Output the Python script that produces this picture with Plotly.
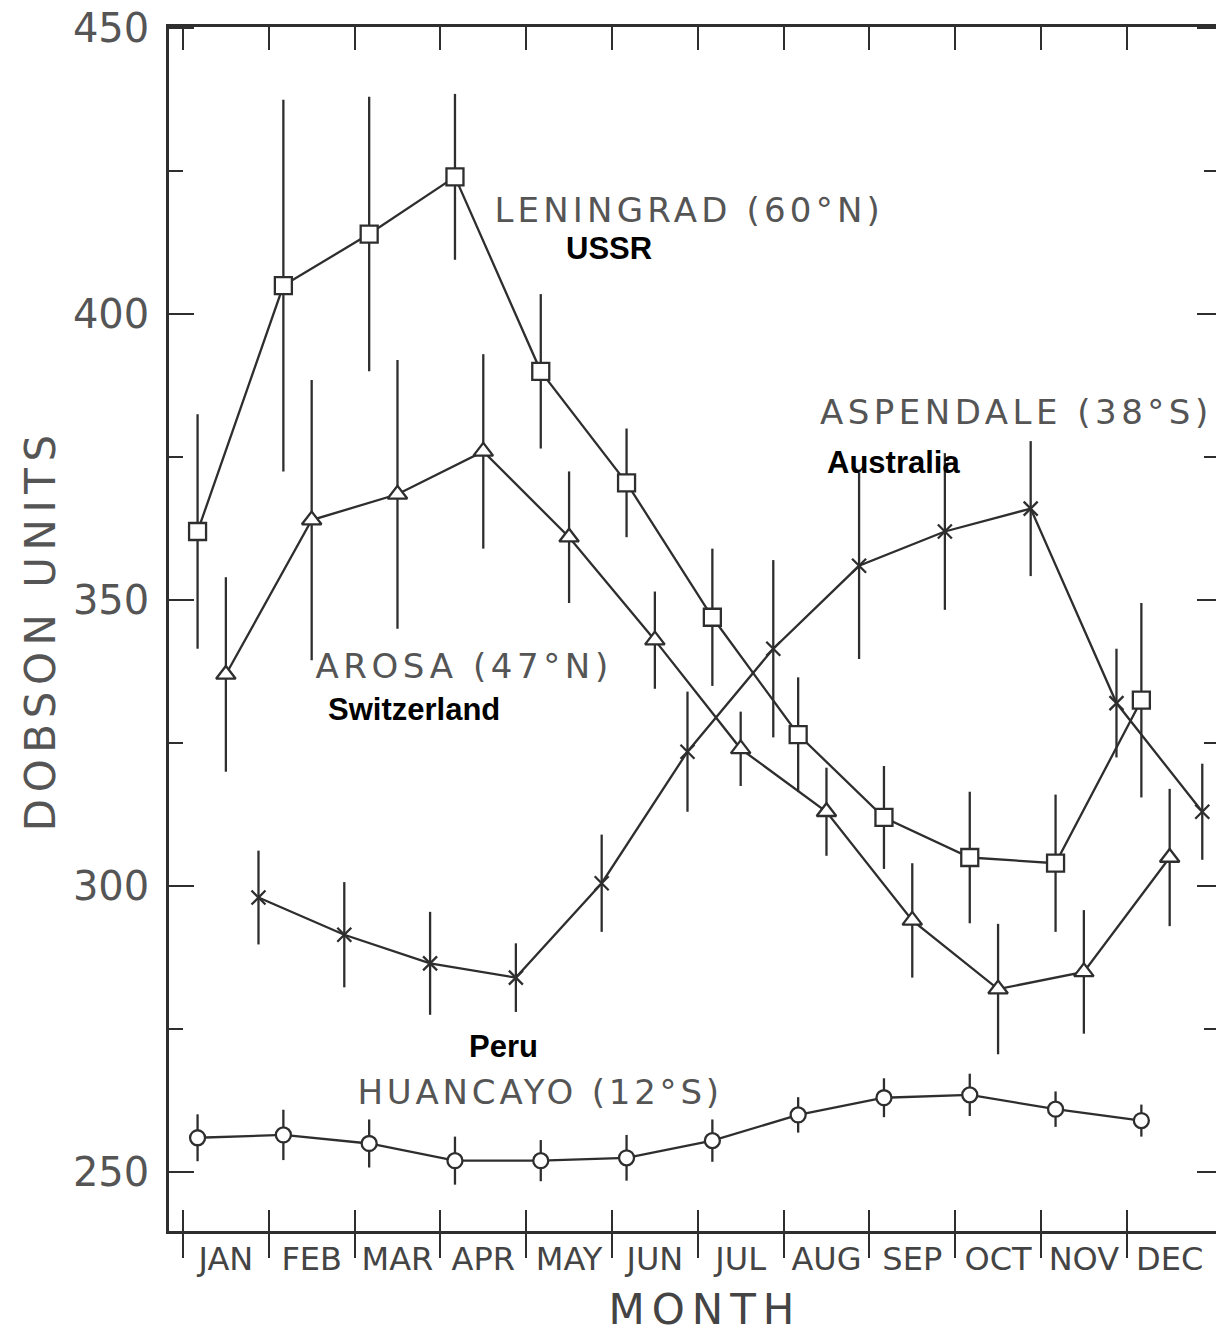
import plotly.graph_objects as go

# ---------------- data ----------------
months = ["JAN", "FEB", "MAR", "APR", "MAY", "JUN",
          "JUL", "AUG", "SEP", "OCT", "NOV", "DEC"]
month_index = list(range(12))

leningrad = [362, 405, 414, 424, 390, 370.5, 347, 326.5, 312, 305, 304, 332.5]
leningrad_err = [20.5, 32.5, 24, 14.5, 13.5, 9.5, 12, 10, 9, 11.5, 12, 17]

arosa = [337, 364, 368.5, 376, 361, 343, 324, 313, 294, 282, 285, 305]
arosa_err = [17, 24.5, 23.5, 17, 11.5, 8.5, 6.5, 7.7, 10, 11.4, 10.8, 12]

aspendale = [298, 291.5, 286.5, 284, 300.5, 323.5, 341.5, 356, 362, 366, 332, 313]
aspendale_err = [8.2, 9.2, 9, 6, 8.5, 10.5, 15.5, 16.3, 13.7, 11.8, 9.5, 8.4]

huancayo = [256, 256.5, 255, 252, 252, 252.5, 255.5, 260, 263, 263.5, 261, 259]
huancayo_err = [4.1, 4.4, 4.2, 4.2, 3.6, 4, 3.7, 3.1, 3.4, 3.7, 3.1, 2.8]

y_ticks = [250, 300, 350, 400, 450]
y_minor = [275, 325, 375, 425]

# ---------------- style ----------------
INK = "#2e2e2e"
TXT = "#555555"
X_RANGE = [-0.163, 12.04]
Y_RANGE = [239.7, 450.2]

series = [
    # name, values, errors, symbol, size, offset within month
    ("Leningrad", leningrad, leningrad_err, "square", 17, 0.17),
    ("Arosa", arosa, arosa_err, "triangle-up", 17, 0.50),
    ("Aspendale", aspendale, aspendale_err, "x-thin", 14, 0.88),
    ("Huancayo", huancayo, huancayo_err, "circle", 15, 0.17),
]

fig = go.Figure()
for name, vals, errs, sym, size, off in series:
    fig.add_trace(go.Scatter(
        x=[m + off for m in month_index], y=vals, name=name,
        mode="lines+markers",
        line=dict(color=INK, width=2.3),
        marker=dict(symbol=sym, size=size, color="white",
                    line=dict(color=INK, width=2.3)),
        error_y=dict(type="data", array=errs, visible=True,
                     width=0, thickness=2.3, color=INK),
        showlegend=False, hoverinfo="skip",
    ))

# dummy traces so that helper axes are drawn
for xa, ya in [("x2", "y"), ("x3", "y"), ("x4", "y"), ("x", "y2")]:
    fig.add_trace(go.Scatter(x=[None], y=[None], xaxis=xa, yaxis=ya,
                             showlegend=False, hoverinfo="skip"))

boundaries = list(range(12))
centers = [m + 0.5 for m in month_index]

common_x = dict(range=X_RANGE, showgrid=False, zeroline=False, automargin=False)
fig.update_layout(
    width=1216, height=1334, autosize=False,
    margin=dict(l=169, r=0, t=27, b=103),
    paper_bgcolor="white", plot_bgcolor="white",
    showlegend=False,
    xaxis=dict(**common_x, showline=True, linecolor=INK, linewidth=2.5,
               ticks="outside", ticklen=24, tickwidth=2.2, tickcolor=INK,
               tickvals=boundaries, showticklabels=False),
    xaxis2=dict(**common_x, overlaying="x", anchor="y", side="bottom",
                showline=False, ticks="inside", ticklen=21, tickwidth=2.2,
                tickcolor=INK, tickvals=boundaries, showticklabels=False),
    xaxis3=dict(**common_x, overlaying="x", anchor="y", side="top",
                showline=True, linecolor=INK, linewidth=2.5,
                ticks="inside", ticklen=23, tickwidth=2.2, tickcolor=INK,
                tickvals=boundaries, showticklabels=False),
    xaxis4=dict(**common_x, overlaying="x", anchor="y", side="bottom",
                showline=False, ticks="", tickvals=centers, ticktext=months,
                tickfont=dict(family="DejaVu Sans", size=32, color="#444444"),
                ticklabelstandoff=6),
    yaxis=dict(range=Y_RANGE, showgrid=False, zeroline=False, automargin=False,
               showline=True, linecolor=INK, linewidth=2.5,
               ticks="inside", ticklen=25, tickwidth=2.2, tickcolor=INK,
               tickvals=y_ticks,
               minor=dict(ticks="inside", ticklen=14, tickwidth=2,
                          tickcolor=INK, tickvals=y_minor, showgrid=False),
               tickfont=dict(family="DejaVu Sans", size=40, color=TXT),
               ticklabelstandoff=9),
    yaxis2=dict(range=Y_RANGE, overlaying="y", anchor="x", side="right",
                showgrid=False, zeroline=False, automargin=False,
                showline=False, ticks="inside", ticklen=19, tickwidth=2.2,
                tickcolor=INK, tickvals=y_ticks, showticklabels=False,
                minor=dict(ticks="inside", ticklen=12, tickwidth=2,
                           tickcolor=INK, tickvals=y_minor, showgrid=False)),
)

station_font = dict(family="DejaVu Sans", size=34, color=TXT)
country_font = dict(family="Liberation Sans", size=31, color="#000000", weight="bold")

labels = [
    ("LENINGRAD (60°N)", 5.90, 418.2, station_font),
    ("USSR", 4.97, 411.4, country_font),
    ("ASPENDALE (38°S)", 9.72, 382.9, station_font),
    ("Australia", 8.28, 374.1, country_font),
    ("AROSA (47°N)", 3.28, 338.5, station_font),
    ("Switzerland", 2.69, 330.9, country_font),
    ("Peru", 3.74, 272.0, country_font),
    ("HUANCAYO (12°S)", 4.16, 264.0, station_font),
]
for text, x, y, font in labels:
    fig.add_annotation(text=text, x=x, y=y, xref="x", yref="y",
                       showarrow=False, font=font,
                       xanchor="center", yanchor="middle")

fig.add_annotation(text="DOBSON UNITS", xref="paper", yref="paper",
                   x=-0.1232, y=0.499, showarrow=False, textangle=-90,
                   font=dict(family="DejaVu Sans", size=42, color=TXT),
                   xanchor="center", yanchor="middle")
fig.add_annotation(text="MONTH", xref="paper", yref="paper",
                   x=0.512, y=-0.0656, showarrow=False,
                   font=dict(family="DejaVu Sans", size=42, color="#444444"),
                   xanchor="center", yanchor="middle")

post = """
var gd = document.getElementById('{plot_id}');
var sp = {'LENINGRAD': '4.2px', 'ASPENDALE': '4.5px', 'AROSA': '4.6px',
          'HUANCAYO': '3.8px', 'MONTH': '7px', 'DOBSON': '6.5px'};
gd.querySelectorAll('text.annotation-text').forEach(function(t) {
  var key = t.textContent.split(' ')[0];
  if (sp[key]) { t.style.letterSpacing = sp[key]; }
});
"""

fig.write_html("out.html", config={"responsive": False, "displayModeBar": False},
               post_script=post)
